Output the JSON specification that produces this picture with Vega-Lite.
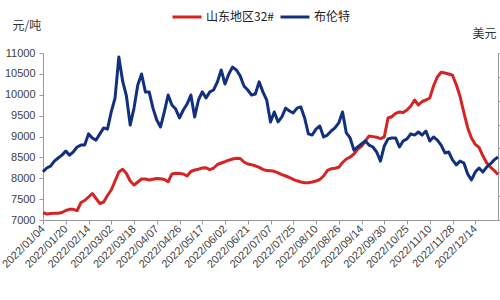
{
  "$schema": "https://vega.github.io/schema/vega-lite/v6.json",
  "width": 455,
  "height": 167,
  "autosize": {"type": "none"},
  "padding": {"left": 43, "top": 53, "right": 2, "bottom": 80},
  "background": "white",
  "config": {
    "view": {"stroke": null},
    "font": "Liberation Sans, Noto Sans CJK SC",
    "axis": {
      "grid": false,
      "domainColor": "#9a9a9a",
      "tickColor": "#9a9a9a",
      "tickSize": 4,
      "labelColor": "#404040",
      "labelFontSize": 11,
      "titleColor": "#333333",
      "titleFontWeight": "normal",
      "titleFontSize": 12,
      "titleFont": "Noto Sans CJK SC"
    }
  },
  "data": {
    "values": [
      {"d": "2022/01/04", "sd": 7175, "brent": 80.2},
      {"d": "2022/01/06", "sd": 7144, "brent": 81.8},
      {"d": "2022/01/10", "sd": 7156, "brent": 82.6},
      {"d": "2022/01/12", "sd": 7160, "brent": 84.7},
      {"d": "2022/01/14", "sd": 7160, "brent": 86.0},
      {"d": "2022/01/18", "sd": 7180, "brent": 87.2},
      {"d": "2022/01/20", "sd": 7228, "brent": 88.9},
      {"d": "2022/01/24", "sd": 7256, "brent": 87.2},
      {"d": "2022/01/26", "sd": 7256, "brent": 88.6},
      {"d": "2022/01/28", "sd": 7223, "brent": 90.6},
      {"d": "2022/02/08", "sd": 7419, "brent": 91.4},
      {"d": "2022/02/10", "sd": 7467, "brent": 91.4},
      {"d": "2022/02/14", "sd": 7551, "brent": 96.1},
      {"d": "2022/02/16", "sd": 7635, "brent": 94.4},
      {"d": "2022/02/18", "sd": 7515, "brent": 93.5},
      {"d": "2022/02/22", "sd": 7395, "brent": 96.1},
      {"d": "2022/02/24", "sd": 7431, "brent": 98.6},
      {"d": "2022/02/28", "sd": 7587, "brent": 98.1},
      {"d": "2022/03/02", "sd": 7719, "brent": 105.3},
      {"d": "2022/03/04", "sd": 7934, "brent": 111.1},
      {"d": "2022/03/08", "sd": 8150, "brent": 128.3},
      {"d": "2022/03/10", "sd": 8214, "brent": 118.3},
      {"d": "2022/03/14", "sd": 8114, "brent": 112.0},
      {"d": "2022/03/16", "sd": 7934, "brent": 99.8},
      {"d": "2022/03/18", "sd": 7838, "brent": 106.9},
      {"d": "2022/03/22", "sd": 7910, "brent": 116.6},
      {"d": "2022/03/24", "sd": 7982, "brent": 121.2},
      {"d": "2022/03/28", "sd": 7982, "brent": 113.7},
      {"d": "2022/03/30", "sd": 7958, "brent": 113.7},
      {"d": "2022/04/01", "sd": 7975, "brent": 106.9},
      {"d": "2022/04/07", "sd": 7994, "brent": 101.9},
      {"d": "2022/04/11", "sd": 7987, "brent": 99.0},
      {"d": "2022/04/13", "sd": 7970, "brent": 105.3},
      {"d": "2022/04/15", "sd": 7917, "brent": 112.4},
      {"d": "2022/04/19", "sd": 8102, "brent": 108.2},
      {"d": "2022/04/21", "sd": 8118, "brent": 106.5},
      {"d": "2022/04/26", "sd": 8111, "brent": 102.8},
      {"d": "2022/04/28", "sd": 8102, "brent": 106.1},
      {"d": "2022/05/05", "sd": 8054, "brent": 108.6},
      {"d": "2022/05/09", "sd": 8162, "brent": 112.4},
      {"d": "2022/05/11", "sd": 8198, "brent": 103.2},
      {"d": "2022/05/13", "sd": 8217, "brent": 110.3},
      {"d": "2022/05/17", "sd": 8245, "brent": 113.7},
      {"d": "2022/05/19", "sd": 8250, "brent": 111.1},
      {"d": "2022/05/23", "sd": 8209, "brent": 113.7},
      {"d": "2022/05/25", "sd": 8245, "brent": 114.5},
      {"d": "2022/05/27", "sd": 8329, "brent": 117.9},
      {"d": "2022/05/31", "sd": 8365, "brent": 122.9},
      {"d": "2022/06/02", "sd": 8396, "brent": 117.0},
      {"d": "2022/06/07", "sd": 8432, "brent": 121.2},
      {"d": "2022/06/09", "sd": 8461, "brent": 124.1},
      {"d": "2022/06/13", "sd": 8478, "brent": 122.9},
      {"d": "2022/06/15", "sd": 8473, "brent": 120.4},
      {"d": "2022/06/17", "sd": 8389, "brent": 116.2},
      {"d": "2022/06/21", "sd": 8341, "brent": 114.5},
      {"d": "2022/06/23", "sd": 8322, "brent": 112.4},
      {"d": "2022/06/27", "sd": 8298, "brent": 112.8},
      {"d": "2022/06/29", "sd": 8262, "brent": 117.9},
      {"d": "2022/07/01", "sd": 8214, "brent": 113.7},
      {"d": "2022/07/05", "sd": 8183, "brent": 110.3},
      {"d": "2022/07/07", "sd": 8178, "brent": 101.1},
      {"d": "2022/07/11", "sd": 8166, "brent": 105.3},
      {"d": "2022/07/13", "sd": 8130, "brent": 101.1},
      {"d": "2022/07/15", "sd": 8087, "brent": 103.2},
      {"d": "2022/07/19", "sd": 8054, "brent": 106.9},
      {"d": "2022/07/21", "sd": 8018, "brent": 105.7},
      {"d": "2022/07/25", "sd": 7972, "brent": 104.9},
      {"d": "2022/07/27", "sd": 7939, "brent": 106.9},
      {"d": "2022/07/29", "sd": 7910, "brent": 107.4},
      {"d": "2022/08/02", "sd": 7893, "brent": 102.8},
      {"d": "2022/08/04", "sd": 7893, "brent": 96.1},
      {"d": "2022/08/08", "sd": 7910, "brent": 95.6},
      {"d": "2022/08/10", "sd": 7934, "brent": 98.1},
      {"d": "2022/08/12", "sd": 7970, "brent": 99.4},
      {"d": "2022/08/16", "sd": 8054, "brent": 94.8},
      {"d": "2022/08/18", "sd": 8186, "brent": 95.6},
      {"d": "2022/08/22", "sd": 8226, "brent": 97.3},
      {"d": "2022/08/24", "sd": 8238, "brent": 98.6},
      {"d": "2022/08/26", "sd": 8262, "brent": 100.7},
      {"d": "2022/08/30", "sd": 8377, "brent": 105.3},
      {"d": "2022/09/01", "sd": 8461, "brent": 96.5},
      {"d": "2022/09/05", "sd": 8504, "brent": 94.4},
      {"d": "2022/09/07", "sd": 8581, "brent": 89.3},
      {"d": "2022/09/09", "sd": 8700, "brent": 90.6},
      {"d": "2022/09/14", "sd": 8765, "brent": 91.9},
      {"d": "2022/09/16", "sd": 8892, "brent": 93.1},
      {"d": "2022/09/20", "sd": 9012, "brent": 91.4},
      {"d": "2022/09/22", "sd": 8997, "brent": 90.6},
      {"d": "2022/09/26", "sd": 8983, "brent": 88.5},
      {"d": "2022/09/28", "sd": 8950, "brent": 84.7},
      {"d": "2022/09/30", "sd": 8988, "brent": 91.0},
      {"d": "2022/10/11", "sd": 9443, "brent": 94.0},
      {"d": "2022/10/13", "sd": 9474, "brent": 94.4},
      {"d": "2022/10/17", "sd": 9555, "brent": 94.4},
      {"d": "2022/10/19", "sd": 9587, "brent": 90.6},
      {"d": "2022/10/21", "sd": 9575, "brent": 93.1},
      {"d": "2022/10/25", "sd": 9635, "brent": 94.0},
      {"d": "2022/10/27", "sd": 9730, "brent": 96.1},
      {"d": "2022/10/31", "sd": 9874, "brent": 95.6},
      {"d": "2022/11/02", "sd": 9754, "brent": 96.9},
      {"d": "2022/11/04", "sd": 9838, "brent": 95.6},
      {"d": "2022/11/08", "sd": 9874, "brent": 97.3},
      {"d": "2022/11/10", "sd": 9922, "brent": 93.1},
      {"d": "2022/11/14", "sd": 10209, "brent": 94.8},
      {"d": "2022/11/16", "sd": 10425, "brent": 93.5},
      {"d": "2022/11/18", "sd": 10540, "brent": 91.4},
      {"d": "2022/11/22", "sd": 10521, "brent": 88.1},
      {"d": "2022/11/24", "sd": 10497, "brent": 88.5},
      {"d": "2022/11/28", "sd": 10468, "brent": 85.2},
      {"d": "2022/11/30", "sd": 10238, "brent": 83.1},
      {"d": "2022/12/02", "sd": 9958, "brent": 84.7},
      {"d": "2022/12/06", "sd": 9570, "brent": 83.9},
      {"d": "2022/12/08", "sd": 9211, "brent": 79.3},
      {"d": "2022/12/12", "sd": 8964, "brent": 76.8},
      {"d": "2022/12/14", "sd": 8813, "brent": 80.1},
      {"d": "2022/12/16", "sd": 8741, "brent": 81.8},
      {"d": "2022/12/20", "sd": 8538, "brent": 80.1},
      {"d": "2022/12/22", "sd": 8370, "brent": 82.2},
      {"d": "2022/12/26", "sd": 8269, "brent": 83.5},
      {"d": "2022/12/28", "sd": 8186, "brent": 85.2},
      {"d": "2022/12/30", "sd": 8090, "brent": 86.4}
    ]
  },
  "encoding": {
    "x": {
      "field": "d",
      "type": "ordinal",
      "scale": {"type": "point", "padding": 0},
      "axis": {
        "title": null,
        "values": ["2022/01/04", "2022/01/20", "2022/02/14", "2022/03/02", "2022/03/18", "2022/04/07", "2022/04/26", "2022/05/17", "2022/06/02", "2022/06/21", "2022/07/07", "2022/07/25", "2022/08/10", "2022/08/26", "2022/09/14", "2022/09/30", "2022/10/25", "2022/11/10", "2022/11/28", "2022/12/14"],
        "labelAngle": -45,
        "labelAlign": "right",
        "labelBaseline": "middle",
        "labelPadding": 3,
        "labelOverlap": false,
        "labelBound": false
      }
    }
  },
  "layer": [
    {
      "mark": {"type": "line", "strokeWidth": 3, "strokeJoin": "round"},
      "encoding": {
        "y": {
          "field": "sd",
          "type": "quantitative",
          "scale": {"domain": [7000, 11000], "nice": false, "zero": false},
          "axis": {
            "values": [7000, 7500, 8000, 8500, 9000, 9500, 10000, 10500, 11000],
            "format": "d",
            "title": "元/吨",
            "titleAngle": 0,
            "titleAlign": "left",
            "titleBaseline": "middle",
            "titleX": -31,
            "titleY": -28,
            "labelPadding": 4
          }
        },
        "color": {
          "datum": "山东地区32#",
          "type": "nominal",
          "scale": {"domain": ["山东地区32#", "布伦特"], "range": ["#d42424", "#13307e"]},
          "legend": {
            "title": null,
            "orient": "none",
            "legendX": 128,
            "legendY": -52,
            "direction": "horizontal",
            "symbolType": "stroke",
            "symbolSize": 841,
            "symbolStrokeWidth": 3,
            "labelFontSize": 12,
            "labelColor": "#222222",
            "labelFont": "Noto Sans CJK SC",
            "labelOffset": 3,
            "columnPadding": 0
          }
        }
      }
    },
    {
      "mark": {"type": "line", "strokeWidth": 3, "strokeJoin": "round"},
      "encoding": {
        "y": {
          "field": "brent",
          "type": "quantitative",
          "scale": {"domain": [60, 130], "nice": false, "zero": false},
          "axis": {
            "orient": "right",
            "values": [60, 70, 80, 90, 100, 110, 120, 130],
            "labels": false,
            "title": "美元",
            "titleAngle": 0,
            "titleAlign": "left",
            "titleBaseline": "middle",
            "titleX": -26,
            "titleY": -20
          }
        },
        "color": {"datum": "布伦特", "type": "nominal"}
      }
    }
  ],
  "resolve": {"scale": {"y": "independent"}}
}
